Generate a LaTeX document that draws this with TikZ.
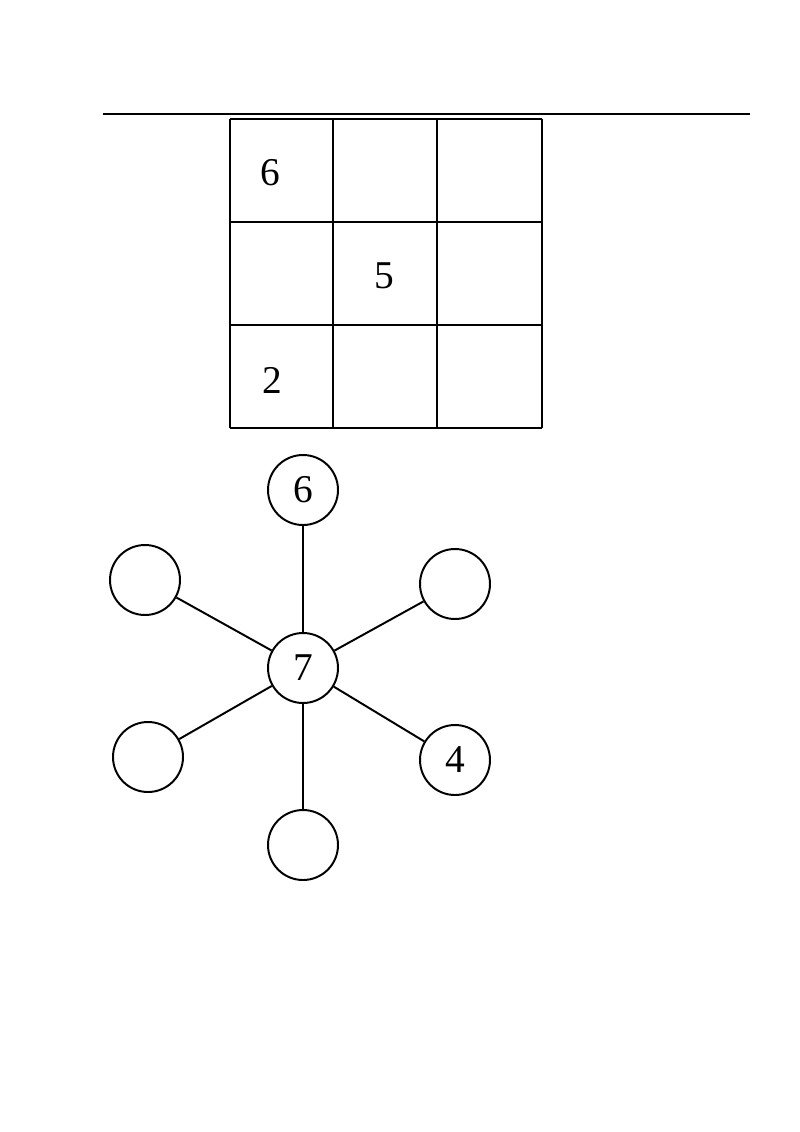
\documentclass[tikz,border=0pt]{standalone}
\usepackage{fontspec}
\setmainfont{Liberation Serif}
\begin{document}
\begin{tikzpicture}[x=0.025cm,y=-0.025cm,
  c/.style={circle,draw,line width=1.4pt,minimum size=70*0.025cm,inner sep=0pt,font=\fontsize{28}{30}\selectfont},
  num/.style={font=\fontsize{28}{30}\selectfont}]
\useasboundingbox (0,0) rectangle (800,1132);
\draw[line width=0.8pt] (103,114) coordinate (l1) -- (750,114) coordinate (l2);
\foreach \x in {230,333,437,542} \draw[line width=2pt] (\x,119) -- (\x,428);
\foreach \y in {119,222,325,428} \draw[line width=2pt] (230,\y) -- (542,\y);
\node[num] (g6) at (270,173) {6};
\node[num] (g5) at (384,276) {5};
\node[num] (g2) at (272,380) {2};
\node[c] (m) at (303,668) {7};
\node[c] (t) at (303,490) {6};
\node[c] (ul) at (145,580) {};
\node[c] (ur) at (455,584) {};
\node[c] (ll) at (148,757) {};
\node[c] (lr) at (455,760) {4};
\node[c] (b) at (303,845) {};
\foreach \n in {t,ul,ur,ll,lr,b} \draw[line width=1.4pt] (m) -- (\n);
\end{tikzpicture}
\end{document}
